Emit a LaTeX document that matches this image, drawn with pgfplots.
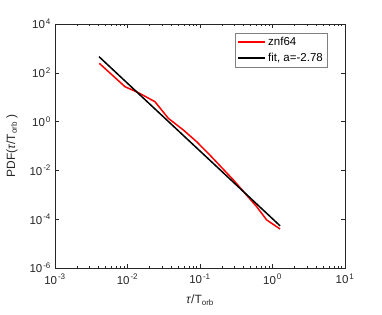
\documentclass[border=0pt]{standalone}
\usepackage{fontspec}
\setmainfont{Liberation Sans}
\usepackage{pgfplots}
\pgfplotsset{compat=1.18}
\definecolor{axgray}{RGB}{38,38,38}
\newcommand{\tp}[1]{10\kern1pt\textsuperscript{#1}}
\begin{document}
\fontsize{11.5}{13}\selectfont
\begin{tikzpicture}
\begin{axis}[
  xmode=log, ymode=log,
  scale only axis, width=290pt, height=244pt,
  xmin=1e-3, xmax=10, ymin=1e-6, ymax=1e4,
  xtick={1e-3,1e-2,1e-1,1,10},
  xticklabels={\tp{-3},\tp{-2},\tp{-1},\tp{0},\tp{1}},
  ytick={1e-6,1e-4,1e-2,1,1e2,1e4},
  yticklabels={\tp{-6},\tp{-4},\tp{-2},\tp{0},\tp{2},\tp{4}},
  tick label style={font=\fontsize{11.5}{13}\selectfont, text=axgray},
  xticklabel style={yshift=-2pt},
  axis line style={axgray, line width=0.5pt},
  every tick/.style={axgray},
  major tick length=4pt, minor tick length=2pt,
  xlabel={\textit{τ}/T\textsubscript{orb}},
  ylabel={PDF(\textit{τ}/T\textsubscript{orb} )},
  label style={font=\fontsize{12}{14}\selectfont, text=axgray},
  xlabel style={yshift=-3pt},
  ylabel style={yshift=4pt},
  legend style={at={(0.938,0.963)}, anchor=north east, draw=black!50, fill=white,
    font=\fontsize{11.5}{13}\selectfont, inner sep=2pt, row sep=1.5pt},
  legend cell align=left,
  legend image code/.code={\draw[#1, line width=1.5pt] (0pt,0pt) -- (27pt,0pt);},
]
\addplot[red, line width=1.5pt] coordinates {
(0.00408,245) (0.00925,26.9) (0.0141,15.3) (0.0239,6.55) (0.0366,1.36)
(0.0589,0.453) (0.0899,0.150) (0.130,0.050) (0.288,0.0041) (0.605,0.000325)
(0.832,0.000093) (1.27,0.0000398)};
\addlegendentry{znf64}
\addplot[black, line width=1.5pt] coordinates {(0.00405,457) (1.27,0.0000537)};
\addlegendentry{fit, a=-2.78}
\end{axis}
\path ([shift={(-55pt,-47pt)}]current axis.south west) rectangle ([shift={(37pt,24pt)}]current axis.north east);
\end{tikzpicture}
\end{document}
